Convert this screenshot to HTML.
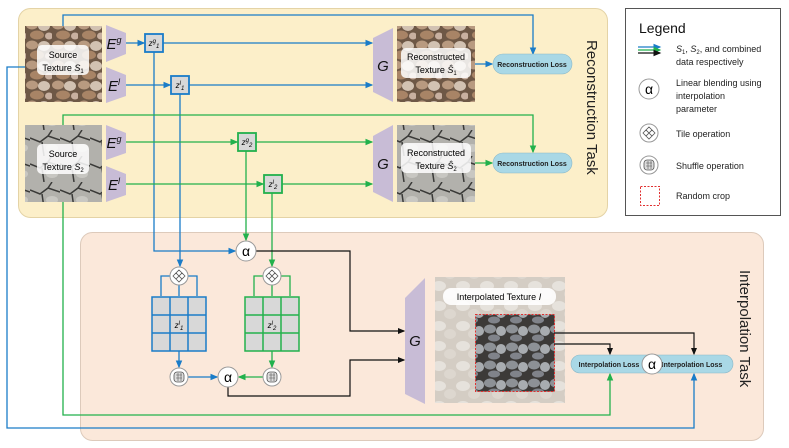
<!DOCTYPE html>
<html><head><meta charset="utf-8"><style>body{margin:0;background:#fff}svg{display:block;font-family:"Liberation Sans",sans-serif}</style></head><body>
<svg width="789" height="448" viewBox="0 0 789 448" xmlns="http://www.w3.org/2000/svg">
<defs>
<pattern id="peb" width="26" height="20" patternUnits="userSpaceOnUse">
<rect width="26" height="20" fill="#6e5846"/>
<ellipse cx="6" cy="5" rx="6" ry="4.5" fill="#b89a80"/>
<ellipse cx="18" cy="6" rx="6" ry="5" fill="#d2c2b2"/>
<ellipse cx="11" cy="15" rx="7" ry="4.5" fill="#a88466"/>
<ellipse cx="23" cy="16" rx="4" ry="3.5" fill="#c8b0a0"/>
</pattern>
<pattern id="crk" width="30" height="26" patternUnits="userSpaceOnUse">
<rect width="30" height="26" fill="#b2b1ac"/>
<path d="M0 8 L10 12 L18 6 L30 10 M12 12 L14 26 M18 6 L22 0" stroke="#3a3a38" stroke-width="1.5" fill="none"/>
<ellipse cx="22" cy="18" rx="6" ry="4" fill="#c8c7c2"/>
</pattern>
<pattern id="lt" width="24" height="20" patternUnits="userSpaceOnUse">
<rect width="24" height="20" fill="#d4cdc4"/>
<ellipse cx="7" cy="6" rx="7" ry="5" fill="#e6e2dc"/>
<ellipse cx="18" cy="14" rx="6" ry="5" fill="#ddd7cf"/>
</pattern>
<pattern id="mix" width="22" height="18" patternUnits="userSpaceOnUse">
<rect width="22" height="18" fill="#3c3a38"/>
<ellipse cx="6" cy="5" rx="6" ry="4.5" fill="#8d9196"/>
<ellipse cx="17" cy="7" rx="5" ry="5" fill="#a8acb0"/>
<ellipse cx="10" cy="14" rx="6" ry="3.5" fill="#80838a"/>
</pattern>
<marker id="ab" markerWidth="6" markerHeight="6" refX="5" refY="3" orient="auto"><path d="M0,0.5 L6,3 L0,5.5z" fill="#1a7cc8"/></marker>
<marker id="ag" markerWidth="6" markerHeight="6" refX="5" refY="3" orient="auto"><path d="M0,0.5 L6,3 L0,5.5z" fill="#22b14c"/></marker>
<marker id="ak" markerWidth="6" markerHeight="6" refX="5" refY="3" orient="auto"><path d="M0,0.5 L6,3 L0,5.5z" fill="#111"/></marker>
<g id="tile"><circle r="9" fill="#fff" stroke="#999"/><path d="M0,-6 L3,-3 L0,0 L-3,-3z M0,0 L3,3 L0,6 L-3,3z M-6,0 L-3,-3 L0,0 L-3,3z M6,0 L3,-3 L0,0 L3,3z" fill="#fff" stroke="#555" stroke-width="0.8"/></g>
<g id="shuf"><circle r="9" fill="#fff" stroke="#999"/><rect x="-5" y="-5" width="10" height="10" rx="3" fill="#ddd" stroke="#555" stroke-width="0.8"/><path d="M-3,-2h6M-3,1h6M-1,-4v8M2,-4v8" stroke="#555" stroke-width="0.6"/></g>
</defs>

<rect x="18.5" y="8.5" width="589" height="209" rx="12" fill="#fcefc9" stroke="#e4d3a6"/>
<rect x="80.5" y="232.5" width="683" height="208" rx="12" fill="#fbe8da" stroke="#ddcabb"/>
<text transform="translate(587,40) rotate(90)" font-size="15" fill="#222">Reconstruction Task</text>
<text transform="translate(740,270) rotate(90)" font-size="15" fill="#222">Interpolation Task</text>

<rect x="25" y="26" width="77" height="76" fill="url(#peb)"/>
<rect x="37" y="45" width="52" height="30" rx="5" fill="#fff" opacity="0.85"/>
<text x="63" y="58" font-size="9" text-anchor="middle">Source</text>
<text x="63" y="71" font-size="9" text-anchor="middle">Texture <tspan font-style="italic">S</tspan><tspan font-size="6" dy="2">1</tspan></text>
<rect x="25" y="125" width="77" height="77" fill="url(#crk)"/>
<rect x="37" y="144" width="52" height="30" rx="5" fill="#fff" opacity="0.85"/>
<text x="63" y="157" font-size="9" text-anchor="middle">Source</text>
<text x="63" y="170" font-size="9" text-anchor="middle">Texture <tspan font-style="italic">S</tspan><tspan font-size="6" dy="2">2</tspan></text>

<rect x="397" y="26" width="78" height="76" fill="url(#peb)"/>
<rect x="401" y="48" width="70" height="30" rx="5" fill="#fff" opacity="0.85"/>
<text x="436" y="60" font-size="9" text-anchor="middle">Reconstructed</text>
<text x="436" y="73" font-size="9" text-anchor="middle">Texture <tspan font-style="italic">Ŝ</tspan><tspan font-size="6" dy="2">1</tspan></text>
<rect x="397" y="125" width="78" height="77" fill="url(#crk)"/>
<rect x="401" y="143" width="70" height="30" rx="5" fill="#fff" opacity="0.85"/>
<text x="436" y="156" font-size="9" text-anchor="middle">Reconstructed</text>
<text x="436" y="169" font-size="9" text-anchor="middle">Texture <tspan font-style="italic">Ŝ</tspan><tspan font-size="6" dy="2">2</tspan></text>

<rect x="435" y="277" width="130" height="126" fill="url(#lt)"/>
<rect x="443" y="288" width="113" height="17" rx="8" fill="#fff" opacity="0.9"/>
<text x="499" y="300" font-size="9" text-anchor="middle">Interpolated Texture <tspan font-style="italic">I</tspan></text>
<rect x="475.5" y="314.5" width="79" height="77" fill="url(#mix)" stroke="#e03030" stroke-dasharray="2,1.5"/>

<g fill="#c8bcd6">
<path d="M106,25 L126,33 L126,54 L106,62z"/><path d="M106,67 L126,75 L126,96 L106,103z"/>
<path d="M106,125 L126,133 L126,153 L106,160z"/><path d="M106,166 L126,174 L126,195 L106,202z"/>
<path d="M373,38 L393,28 L393,102 L373,92z"/><path d="M373,136 L393,125 L393,202 L373,192z"/>
<path d="M405,298 L425,278 L425,404 L405,394z"/>
</g>
<g font-size="15" font-style="italic" text-anchor="middle" fill="#111">
<text x="114" y="49">E<tspan font-size="9" dy="-6">g</tspan></text>
<text x="114" y="91">E<tspan font-size="9" dy="-6">l</tspan></text>
<text x="114" y="148">E<tspan font-size="9" dy="-6">g</tspan></text>
<text x="114" y="190">E<tspan font-size="9" dy="-6">l</tspan></text>
<text x="383" y="71">G</text><text x="383" y="169">G</text><text x="415" y="346">G</text>
</g>

<g stroke="#1a7cc8" stroke-width="1.3" fill="none">
<path d="M63,26 V15 H533 V54" marker-end="url(#ab)"/>
<path d="M126,43 H144" marker-end="url(#ab)"/>
<path d="M163,43 H372" marker-end="url(#ab)"/>
<path d="M126,85 H170" marker-end="url(#ab)"/>
<path d="M189,85 H372" marker-end="url(#ab)"/>
<path d="M475,64 H492" marker-end="url(#ab)"/>
<path d="M154,52 V251 H235" marker-end="url(#ab)"/>
<path d="M180,94 V266" marker-end="url(#ab)"/>
<path d="M170,276 H161 V296 M188,276 H197 V296 M179,285 V296"/>
<path d="M179,351 V367" marker-end="url(#ab)"/>
<path d="M188,377 H217" marker-end="url(#ab)"/>
<path d="M25,67 H7 V428 H694 V374" marker-end="url(#ab)"/>
</g>
<g stroke="#22b14c" stroke-width="1.3" fill="none">
<path d="M63,125 V115 H533 V152" marker-end="url(#ag)"/>
<path d="M126,142 H237" marker-end="url(#ag)"/>
<path d="M256,142 H372" marker-end="url(#ag)"/>
<path d="M126,184 H263" marker-end="url(#ag)"/>
<path d="M282,184 H372" marker-end="url(#ag)"/>
<path d="M475,163 H492" marker-end="url(#ag)"/>
<path d="M246,151 V240" marker-end="url(#ag)"/>
<path d="M272,193 V266" marker-end="url(#ag)"/>
<path d="M263,276 H254 V296 M281,276 H290 V296 M272,285 V296"/>
<path d="M272,351 V367" marker-end="url(#ag)"/>
<path d="M263,377 H239" marker-end="url(#ag)"/>
<path d="M63,202 V415 H610 V374" marker-end="url(#ag)"/>
</g>
<g stroke="#111" stroke-width="1.2" fill="none">
<path d="M256,251 H350 V331 H404" marker-end="url(#ak)"/>
<path d="M228,387 V396 H350 V360 H404" marker-end="url(#ak)"/>
<path d="M554,333 H694 V354" marker-end="url(#ak)"/>
<path d="M554,344 H610 V354" marker-end="url(#ak)"/>
</g>

<g stroke-width="1.8" font-size="8" font-style="italic" text-anchor="middle">
<rect x="145" y="34" width="18" height="18" fill="#d8d8d8" stroke="#1a7cc8"/>
<text x="154" y="46">z<tspan font-size="6" dy="-3">g</tspan><tspan font-size="6" dy="5">1</tspan></text>
<rect x="171" y="76" width="18" height="18" fill="#d8d8d8" stroke="#1a7cc8"/>
<text x="180" y="88">z<tspan font-size="6" dy="-3">l</tspan><tspan font-size="6" dy="5">1</tspan></text>
<rect x="238" y="133" width="18" height="18" fill="#d8d8d8" stroke="#22b14c"/>
<text x="247" y="145">z<tspan font-size="6" dy="-3">g</tspan><tspan font-size="6" dy="5">2</tspan></text>
<rect x="264" y="175" width="18" height="18" fill="#d8d8d8" stroke="#22b14c"/>
<text x="273" y="187">z<tspan font-size="6" dy="-3">l</tspan><tspan font-size="6" dy="5">2</tspan></text>
</g>

<g fill="#d8d8d8" stroke-width="1.5">
<rect x="152" y="297" width="54" height="54" stroke="#1a7cc8"/>
<path d="M170,297V351M188,297V351M152,315H206M152,333H206" stroke="#1a7cc8"/>
<rect x="245" y="297" width="54" height="54" stroke="#22b14c"/>
<path d="M263,297V351M281,297V351M245,315H299M245,333H299" stroke="#22b14c"/>
</g>
<text x="179" y="328" font-size="8" font-style="italic" text-anchor="middle">z<tspan font-size="6" dy="-3">l</tspan><tspan font-size="6" dy="5">1</tspan></text>
<text x="272" y="328" font-size="8" font-style="italic" text-anchor="middle">z<tspan font-size="6" dy="-3">l</tspan><tspan font-size="6" dy="5">2</tspan></text>

<use href="#tile" x="179" y="276"/><use href="#tile" x="272" y="276"/>
<use href="#shuf" x="179" y="377"/><use href="#shuf" x="272" y="377"/>
<g font-size="14" text-anchor="middle">
<circle cx="246" cy="251" r="10" fill="#fff" stroke="#999"/><text x="246" y="256">α</text>
<circle cx="228" cy="377" r="10" fill="#fff" stroke="#999"/><text x="228" y="382">α</text>
</g>

<g font-size="7" font-weight="bold" text-anchor="middle" fill="#222">
<rect x="493" y="54" width="79" height="20" rx="10" fill="#a9d8e6" stroke="#8ab8c8" stroke-width="0.6"/>
<text x="532" y="67">Reconstruction Loss</text>
<rect x="493" y="153" width="79" height="20" rx="10" fill="#a9d8e6" stroke="#8ab8c8" stroke-width="0.6"/>
<text x="532" y="166">Reconstruction Loss</text>
<rect x="571" y="355" width="162" height="18" rx="9" fill="#a9d8e6" stroke="#8ab8c8" stroke-width="0.6"/>
<text x="609" y="367">Interpolation Loss</text>
<text x="692" y="367">Interpolation Loss</text>
</g>
<circle cx="652" cy="364" r="10" fill="#fff" stroke="#999"/><text x="652" y="369" font-size="14" text-anchor="middle">α</text>

<rect x="625.5" y="8.5" width="155" height="207" fill="#fff" stroke="#555"/>
<text x="639" y="33" font-size="14" fill="#111">Legend</text>
<path d="M638,47H660" stroke="#1a7cc8" stroke-width="1.3" marker-end="url(#ab)"/>
<path d="M638,50H660" stroke="#22b14c" stroke-width="1.3" marker-end="url(#ag)"/>
<path d="M638,53H660" stroke="#111" stroke-width="1.3" marker-end="url(#ak)"/>
<g font-size="9" fill="#222">
<text x="676" y="52"><tspan font-style="italic">S</tspan><tspan font-size="6" dy="2">1</tspan><tspan dy="-2">, </tspan><tspan font-style="italic">S</tspan><tspan font-size="6" dy="2">2</tspan><tspan dy="-2">, and combined</tspan></text>
<text x="676" y="65">data respectively</text>
<text x="676" y="86">Linear blending using</text>
<text x="676" y="99">interpolation</text>
<text x="676" y="112">parameter</text>
<text x="676" y="137">Tile operation</text>
<text x="676" y="169">Shuffle operation</text>
<text x="676" y="199">Random crop</text>
</g>
<circle cx="649" cy="89" r="10" fill="#fff" stroke="#999"/><text x="649" y="94" font-size="14" text-anchor="middle">α</text>
<use href="#tile" x="649" y="133"/><use href="#shuf" x="649" y="165"/>
<rect x="640.5" y="186.5" width="19" height="19" fill="none" stroke="#e03030" stroke-dasharray="2,1.5"/>
</svg>
</body></html>
